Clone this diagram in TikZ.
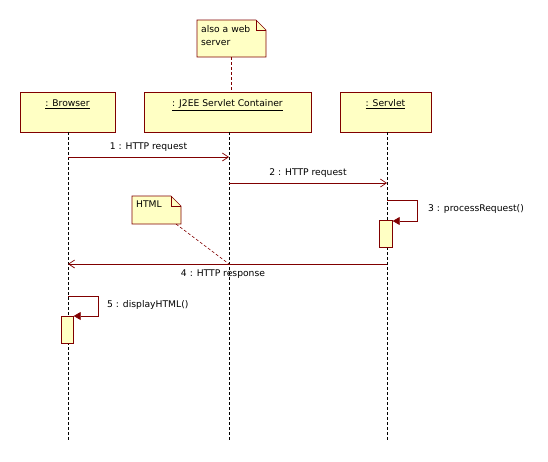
\documentclass[tikz,border=0pt]{standalone}
\usepackage{fontspec}
\setmainfont{DejaVu Sans}
\usetikzlibrary{arrows.meta}
\definecolor{boxfill}{RGB}{255,255,196}
\definecolor{dred}{RGB}{128,0,0}
\tikzset{
  x=1pt, y=-1pt,
  every node/.style={font=\fontsize{9.2}{11}\selectfont, text=black},
  objbox/.style={draw=dred, fill=boxfill, line width=0.8pt, minimum height=40pt, anchor=north west, inner sep=0pt},
  life/.style={densely dashed, line width=0.6pt, black},
  msg/.style={dred, line width=0.7pt, -{Straight Barb[length=6pt,width=8pt]}},
  selfmsg/.style={dred, line width=0.7pt, -{Triangle[length=7pt,width=8pt]}},
  act/.style={draw=dred, fill=boxfill, line width=0.7pt},
  lbl/.style={inner sep=1pt},
  notelink/.style={dred, densely dashed, line width=0.6pt}
}
\begin{document}
\begin{tikzpicture}
\useasboundingbox (0,0) rectangle (548,461);
% object boxes
\node[objbox, minimum width=95pt] (browser) at (20,92) {};
\node[anchor=north] (bl) at (67.5,96) {\underline{: Browser}};
\node[objbox, minimum width=167pt] (cont) at (144,92) {};
\node[anchor=north] (cl) at (227.5,96) {\underline{: J2EE Servlet Container}};
\node[objbox, minimum width=91pt] (servlet) at (340,92) {};
\node[anchor=north] (sl) at (385.5,96) {\underline{: Servlet}};
% lifeline ends
\coordinate (bE) at (68,440);
\coordinate (cE) at (229,440);
\coordinate (sE) at (387,440);
\draw[life] (68,132) -- (bE);
\draw[life] (229,132) -- (cE);
\draw[life] (387,132) -- (sE);
% top note
\draw[draw=dred, fill=boxfill, line width=0.7pt] (197,20) -- (256,20) -- (266,30) -- (266,57) -- (197,57) -- cycle;
\draw[dred, line width=0.6pt] (256,20) -- (256,30) -- (266,30);
\node[anchor=north west, align=left, inner sep=0pt] (note1) at (201,25) {also a web\\[2pt]server};
\coordinate (n1b) at (231,57);
\draw[notelink] (n1b) -- (231,92);
% messages
\coordinate (m1s) at (68,157);
\coordinate (m1e) at (229,157);
\draw[msg] (m1s) -- (m1e) node[midway, above=2pt] {1 : HTTP request};
\coordinate (m2s) at (229,183);
\coordinate (m2e) at (387,183);
\draw[msg] (m2s) -- (m2e) node[midway, above=2pt] {2 : HTTP request};
% self message 3
\node[act, minimum width=13pt, minimum height=27pt, inner sep=0pt, anchor=north west] (a3) at (379,220) {};
\draw[selfmsg] (387,200) -- (417,200) -- (417,221) -- (a3.east |- 0,221);
\node[anchor=west, lbl] at (427,209) {3 : processRequest()};
% HTML note
\draw[draw=dred, fill=boxfill, line width=0.7pt] (132,196) -- (171,196) -- (181,206) -- (181,224) -- (132,224) -- cycle;
\draw[dred, line width=0.6pt] (171,196) -- (171,206) -- (181,206);
\node[anchor=north west, inner sep=0pt] (note2) at (136,201) {HTML};
% message 4
\coordinate (m4s) at (387,264);
\coordinate (m4e) at (68,264);
\draw[msg] (m4s) -- (m4e);
\node[lbl] at (223,274) {4 : HTTP response};
\draw[notelink] (176,224) -- (229,264);
% self message 5
\node[act, minimum width=12pt, minimum height=27pt, inner sep=0pt, anchor=north west] (a5) at (61,316) {};
\draw[selfmsg] (68,296) -- (98,296) -- (98,316) -- (a5.east |- 0,316);
\node[anchor=west, lbl] at (106,305) {5 : displayHTML()};
\end{tikzpicture}
\end{document}
